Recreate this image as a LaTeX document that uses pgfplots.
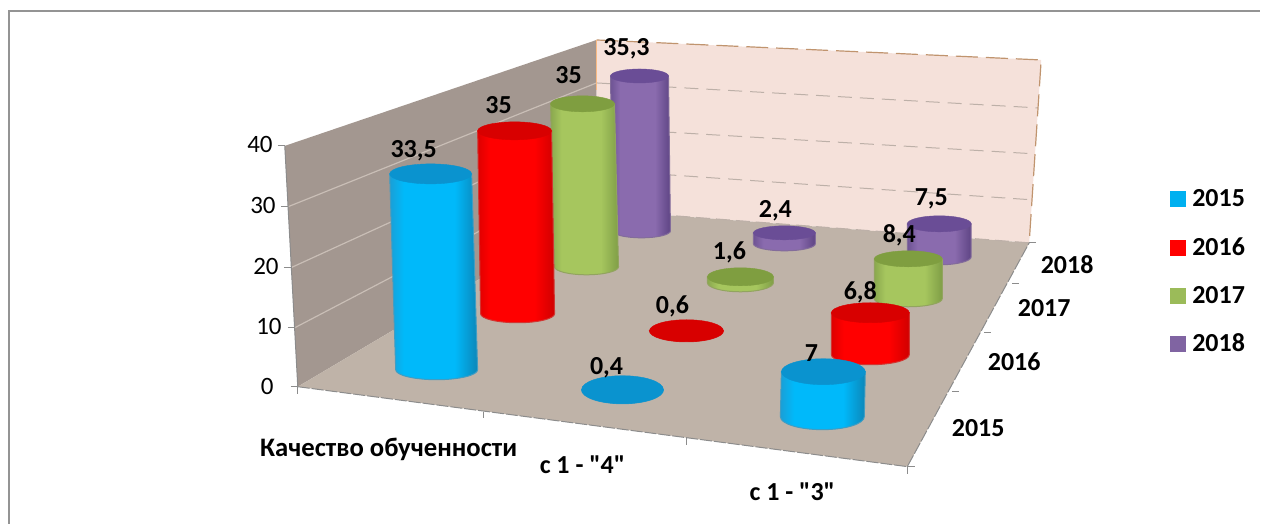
\documentclass[border=0pt]{standalone}
\usepackage{pgfplots}
\usepackage{pgfplotstable}
\pgfplotsset{compat=1.18}
\usepackage{fontspec}
\setmainfont{Carlito}
\newfontfamily\rawf{Carlito}
\definecolor{wallL}{HTML}{A39790}
\definecolor{wallB}{HTML}{F5E1DA}
\definecolor{floorc}{HTML}{BFB3A8}
\definecolor{gridL}{HTML}{C9BEB6}
\definecolor{gridB}{HTML}{BDB0A8}
\definecolor{axisc}{HTML}{8C8C8C}
\definecolor{edgeB}{HTML}{C0946E}
\definecolor{aL}{HTML}{1A9FD6}\definecolor{aM}{HTML}{00B9FA}\definecolor{aR}{HTML}{0C86B8}\definecolor{aT}{HTML}{0A93CF}\definecolor{aK}{HTML}{00B0F0}
\definecolor{bL}{HTML}{DE0000}\definecolor{bM}{HTML}{FF0000}\definecolor{bR}{HTML}{D00000}\definecolor{bT}{HTML}{D80000}\definecolor{bK}{HTML}{FF0000}
\definecolor{cL}{HTML}{8AA84E}\definecolor{cM}{HTML}{A6C65E}\definecolor{cR}{HTML}{7F9E46}\definecolor{cT}{HTML}{7F9E40}\definecolor{cK}{HTML}{9BBB59}
\definecolor{dL}{HTML}{6E5394}\definecolor{dM}{HTML}{8A6BAE}\definecolor{dR}{HTML}{5E4484}\definecolor{dT}{HTML}{6A4D96}\definecolor{dK}{HTML}{8064A2}
\pgfdeclarehorizontalshading{cylA}{100bp}{color(0bp)=(aL);color(25bp)=(aL);color(33bp)=(aM);color(62bp)=(aM);color(75bp)=(aR);color(100bp)=(aR)}
\pgfdeclarehorizontalshading{cylB}{100bp}{color(0bp)=(bL);color(25bp)=(bL);color(33bp)=(bM);color(62bp)=(bM);color(75bp)=(bR);color(100bp)=(bR)}
\pgfdeclarehorizontalshading{cylC}{100bp}{color(0bp)=(cL);color(25bp)=(cL);color(33bp)=(cM);color(62bp)=(cM);color(75bp)=(cR);color(100bp)=(cR)}
\pgfdeclarehorizontalshading{cylD}{100bp}{color(0bp)=(dL);color(25bp)=(dL);color(33bp)=(dM);color(62bp)=(dM);color(75bp)=(dR);color(100bp)=(dR)}
% columns: x y value scale lean rx ry
\pgfplotstableread{
x y v s lean rx ry
642 231 35.3 4.39 -2 29 7
785 244 2.4 4.58 0 31 7
940 257 7.5 4.40 0 32 8
}\seriesD
\pgfplotstableread{
x y v s lean rx ry
587 267 35 4.66 -4 32 8
741 283 1.6 3.75 0 33 9
909 299 8.4 4.76 0 34 8
}\seriesC
\pgfplotstableread{
x y v s lean rx ry
518 314 35 5.23 -3 37 9
687 331 0.6 0.01 0 37 11
871 355 6.8 6.18 0 39 10
}\seriesB
\pgfplotstableread{
x y v s lean rx ry
437 370 33.5 5.85 -6 41 10
623 390 0.4 0.01 0 41 14
823 417 7 6.43 1 42 13
}\seriesA
\pgfplotsset{
 cyl/.style n args={2}{scatter, only marks, mark size=0pt, mark=none,
  visualization depends on={\thisrow{v}*\thisrow{s} \as \cylh},
  visualization depends on={\thisrow{lean} \as \cyll},
  visualization depends on={\thisrow{rx} \as \cylrx},
  visualization depends on={\thisrow{ry} \as \cylry},
  scatter/@pre marker code/.code={%
   \pgfmathsetmacro\ca{\cylrx}\pgfmathsetmacro\cb{\cylry}%
   \pgfmathsetmacro\cl{\cyll}\pgfmathsetmacro\ch{\cylh}%
   \path[shading=#1,draw=#2!70!floorc,line width=1pt]
     (-\ca pt,0pt) -- (\cl pt-\ca pt,\ch pt) -- (\cl pt+\ca pt,\ch pt) -- (\ca pt,0pt)
     arc[start angle=0,end angle=-180,x radius=\ca pt,y radius=\cb pt] -- cycle;
   \fill[#2] (\cl pt,\ch pt) ellipse[x radius=\ca pt,y radius=\cb pt];
  },
  scatter/@post marker code/.code={},
 },
 vals/.style={only marks, mark=none, point meta=explicit symbolic, nodes near coords,
   nodes near coords style={anchor=center,inner sep=0pt,font=\fontsize{26}{26}\selectfont\bfseries,text=black}},
}
\begin{document}
\begin{tikzpicture}
\begin{axis}[x=1pt,y=1pt,xmin=0,xmax=1261,ymin=0,ymax=524,y dir=reverse,
  axis lines=none,clip=false,scale only axis]
\path (axis cs:0,0) (axis cs:1261,524);
% frame
\addplot[draw=black!42,line width=2pt] coordinates {(9,524)(9,11)(1261,11)};
% walls and floor
\addplot[fill=wallL,draw=none] coordinates {(285,146)(597,40)(597,210)(298,387)(285,146)};
\addplot[fill=wallB,draw=none] coordinates {(597,40)(1042,60)(1030,243)(597,210)(597,40)};
\addplot[fill=floorc,draw=none] coordinates {(298,387)(597,210)(1030,243)(908,467)(298,387)};
% wall grid
\addplot[gridL,line width=1.2pt] coordinates {(288,207)(597,83)};
\addplot[gridL,line width=1.2pt] coordinates {(291,268)(597,128)};
\addplot[gridL,line width=1.2pt] coordinates {(295,328)(597,170)};
\addplot[gridB,line width=1pt,dash pattern=on 14pt off 8pt] coordinates {(597,83)(1039,108)};
\addplot[gridB,line width=1pt,dash pattern=on 14pt off 8pt] coordinates {(597,128)(1036,154)};
\addplot[gridB,line width=1pt,dash pattern=on 14pt off 8pt] coordinates {(597,170)(1033,200)};
\addplot[color=edgeB,line width=1.2pt,dash pattern=on 22pt off 8pt] coordinates {(597,40)(1042,60)(1030,243)};
\addplot[color=orange!40!wallB,line width=1.5pt] coordinates {(597,40)(597,90)};
\addplot[gridB,line width=1pt,dash pattern=on 14pt off 6pt] coordinates {(597,210)(1030,243)};
% axes and ticks
\addplot[axisc,line width=1pt] coordinates {(285,146)(298,387)};
\addplot[axisc,line width=1pt,dash pattern=on 12pt off 2pt] coordinates {(298,387)(908,467)(1030,243)};
\addplot[axisc,line width=1pt] coordinates {(278,146)(285,146)};
\addplot[axisc,line width=1pt] coordinates {(281,207)(288,207)};
\addplot[axisc,line width=1pt] coordinates {(284,268)(291,268)};
\addplot[axisc,line width=1pt] coordinates {(288,328)(295,328)};
\addplot[axisc,line width=1pt] coordinates {(291,387)(298,387)};
\addplot[axisc,line width=1pt] coordinates {(298,387)(298,394)};
\addplot[axisc,line width=1pt] coordinates {(484,412)(484,418)};
\addplot[axisc,line width=1pt] coordinates {(687,438)(687,445)};
\addplot[axisc,line width=1pt] coordinates {(908,467)(908,474)};
\addplot[axisc,line width=1pt] coordinates {(908,467)(916,467)};
\addplot[axisc,line width=1pt] coordinates {(953,392)(960,392)};
\addplot[axisc,line width=1pt] coordinates {(985,333)(992,333)};
\addplot[axisc,line width=1pt] coordinates {(1013,284)(1020,284)};
\addplot[axisc,line width=1pt] coordinates {(1030,243)(1037,243)};
% cylinders, back to front
\addplot[cyl={cylD}{dT}] table {\seriesD};
\addplot[cyl={cylC}{cT}] table {\seriesC};
\addplot[cyl={cylB}{bT}] table {\seriesB};
\addplot[cyl={cylA}{aT}] table {\seriesA};
% value labels
\addplot[vals] table[meta=l] {
x y l
414 151 33,5
499 105 35
569 75 35
627 49 35,3
607 368 0,4
673 307 0,6
730 253 1,6
776 211 2,4
932 199 7,5
900 235 8,4
861 293 6,8
812 353 7
};
% legend
\addplot[only marks,mark=square*,mark size=7.5pt,color=aK] coordinates {(1178.5,198.5)};
\addplot[only marks,mark=square*,mark size=7.5pt,color=bK] coordinates {(1178.5,247.5)};
\addplot[only marks,mark=square*,mark size=7.5pt,color=cK] coordinates {(1178.5,295.5)};
\addplot[only marks,mark=square*,mark size=7.5pt,color=dK] coordinates {(1178.5,343.5)};
\begin{scope}[every node/.style={inner sep=0pt,text=black,font=\fontsize{26}{26}\selectfont\bfseries}]
\node[anchor=west] at (axis cs:1193,198) {2015};
\node[anchor=west] at (axis cs:1193,247) {2016};
\node[anchor=west] at (axis cs:1193,295) {2017};
\node[anchor=west] at (axis cs:1193,343) {2018};
\node at (axis cs:1068,265) {2018};
\node at (axis cs:1045,308) {2017};
\node at (axis cs:1015,362) {2016};
\node at (axis cs:979,428) {2015};
\node[font=\fontsize{26.7}{27}\selectfont\bfseries] at (axis cs:389,450) {Качество обученности};
\node[font=\rawf\fontsize{26}{26}\selectfont\bfseries] at (axis cs:583,465) {с 1 - "4"};
\node[font=\rawf\fontsize{26}{26}\selectfont\bfseries] at (axis cs:793,492) {с 1 - "3"};
\node[font=\fontsize{25}{25}\selectfont,anchor=east] at (axis cs:273,145) {40};
\node[font=\fontsize{25}{25}\selectfont,anchor=east] at (axis cs:276,206) {30};
\node[font=\fontsize{25}{25}\selectfont,anchor=east] at (axis cs:279,267) {20};
\node[font=\fontsize{25}{25}\selectfont,anchor=east] at (axis cs:282,327) {10};
\node[font=\fontsize{25}{25}\selectfont,anchor=east] at (axis cs:274,387) {0};
\end{scope}
\end{axis}
\end{tikzpicture}
\end{document}
